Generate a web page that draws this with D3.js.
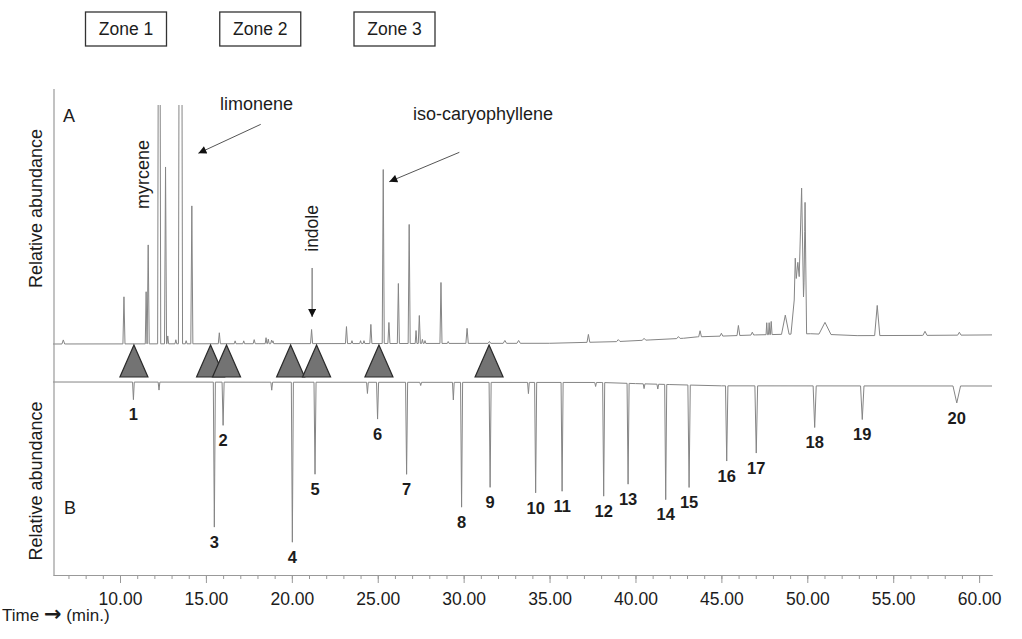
<!DOCTYPE html>
<html>
<head>
<meta charset="utf-8">
<script src="https://cdn.jsdelivr.net/npm/d3@7/dist/d3.min.js"></script>
<style>
  body { margin: 0; background: #fff; }
  text { font-family: "Liberation Sans", Arial, Helvetica, sans-serif; fill: #1c1c1c; }
</style>
</head>
<body>
<div id="chart"></div>
<script>
// zone boxes along the top
const zones = ["Zone 1", "Zone 2", "Zone 3"];

// trace A: retention time (min), relative abundance (% of full scale, >100 = off scale), half width (min)
const peakTimesA   = [6.7, 10.23, 11.52, 11.64, 12.28, 12.65, 12.78, 13.25, 13.52, 13.85, 14.18, 15.78, 16.7, 17.2, 17.81,
                      18.5, 18.63, 18.82, 18.9, 21.15, 23.18, 23.5, 24.0, 24.2, 24.6, 25.32, 25.65, 26.2, 26.83, 27.23,
                      27.42, 27.6, 27.75, 28.68, 29.1, 30.2, 31.5, 32.4, 33.2, 37.26, 39.0, 40.5, 42.5, 43.76, 45.0,
                      45.99, 46.8, 47.64, 47.78, 47.9, 48.72, 49.45, 49.3, 49.67, 49.87, 51.03, 54.07, 56.85, 58.85];
const peakHeightsA = [1.7, 19.7, 21.8, 41.4, 300, 74, 3.3, 1.7, 400, 1.3, 57.7, 4.6, 1.2, 1.2, 1.7,
                      2.5, 1.9, 1.5, 1.2, 5.9, 7.1, 1.2, 1.2, 1.2, 8.0, 72.8, 8.8, 25.1, 49.8, 5.4,
                      11.7, 1.7, 1.2, 25.5, 0.8, 6.3, 0.8, 1.2, 1.2, 3.3, 0.8, 0.8, 0.8, 2.5, 1.2,
                      4.2, 1.2, 5.0, 5.0, 5.5, 8, 30, 13, 47.5, 55, 5, 12.6, 1.7, 1.2];
const peakWidthsA  = [0.08, 0.06, 0.05, 0.06, 0.09, 0.06, 0.05, 0.05, 0.12, 0.05, 0.06, 0.06, 0.05, 0.05, 0.06,
                      0.05, 0.05, 0.05, 0.05, 0.06, 0.06, 0.05, 0.05, 0.05, 0.06, 0.06, 0.06, 0.06, 0.06, 0.05,
                      0.06, 0.05, 0.05, 0.06, 0.05, 0.07, 0.08, 0.1, 0.1, 0.08, 0.1, 0.1, 0.1, 0.08, 0.08,
                      0.08, 0.08, 0.04, 0.04, 0.05, 0.22, 0.4, 0.06, 0.14, 0.09, 0.35, 0.15, 0.12, 0.1];
// trace A baseline drift
const baseTimesA  = [6.1, 35, 38.9, 40.85, 42.8, 43.6, 45, 47, 50.2, 52.9, 56.7, 60.75];
const baseLevelsA = [0, 0.3, 1.0, 1.7, 2.4, 3.0, 3.3, 3.8, 4.3, 3.5, 3.6, 3.8];

// trace B (reference, drawn downward): retention time, depth (% of largest), half width, peak number
const peakTimesB  = [10.78, 12.27, 15.49, 16.0, 18.83, 20.03, 21.35, 24.4, 24.99, 26.68, 27.5, 29.4, 29.88, 31.54, 33.77,
                     34.19, 35.73, 37.68, 38.15, 39.57, 40.5, 41.3, 41.76, 43.12, 45.31, 47.03, 50.43, 53.2, 58.7];
const peakDepthsB = [11, 5, 90.6, 27, 5, 100, 57.5, 7, 23, 57.5, 2, 11, 78, 65.6, 7,
                     69, 68, 2.5, 71, 63, 3, 3, 72, 64, 47, 42, 26, 21, 10.6];
const peakWidthsB = [0.05, 0.05, 0.06, 0.06, 0.05, 0.06, 0.06, 0.05, 0.06, 0.06, 0.05, 0.05, 0.06, 0.06, 0.05,
                     0.06, 0.06, 0.05, 0.06, 0.06, 0.05, 0.05, 0.06, 0.07, 0.07, 0.08, 0.09, 0.1, 0.22];
const peakNumbersB = ["1", "", "3", "2", "", "4", "5", "", "6", "7", "", "", "8", "9", "",
                      "10", "11", "", "12", "13", "", "", "14", "15", "16", "17", "18", "19", "20"];
const baseTimesB  = [6.1, 38, 40, 42, 45, 60.75];
const baseLevelsB = [0, 0.3, 1.0, 1.6, 2.4, 2.5];

// triangle markers between the two traces (min)
const markerTimes = [10.81, 15.27, 16.2, 19.93, 21.44, 25.07, 31.48];

// axis ticks
const minorTicks = d3.range(7, 61, 1);
const majorTicks = [10, 15, 20, 25, 30, 35, 40, 45, 50, 55, 60];

const W = 1022, H = 639;
const svg = d3.select("#chart").append("svg").attr("width", W).attr("height", H);

const x = d3.scaleLinear().domain([6.1, 60.75]).range([53, 992]);
const yA = d3.scaleLinear().domain([0, 100]).range([344, 105]);
const yB = d3.scaleLinear().domain([0, 100]).range([382, 542]);

// piecewise-linear sum of triangular peaks over a drifting baseline
function buildTrace(times, heights, widths, baseT, baseV) {
    const base = d3.scaleLinear().domain(baseT).range(baseV).clamp(true);
    const verts = new Set([...x.domain(), ...baseT]);
    times.forEach((t, i) => { verts.add(t - widths[i]); verts.add(t); verts.add(t + widths[i]); });
    const ts = Array.from(verts).filter(t => t >= x.domain()[0] && t <= x.domain()[1]).sort(d3.ascending);
    return ts.map(t => [t, base(t) + d3.sum(times, (p, i) => Math.max(0, heights[i] * (1 - Math.abs(t - p) / widths[i])))]);
}

const traceA = buildTrace(peakTimesA, peakHeightsA, peakWidthsA, baseTimesA, baseLevelsA);
const traceB = buildTrace(peakTimesB, peakDepthsB, peakWidthsB, baseTimesB, baseLevelsB);
const baseB = d3.scaleLinear().domain(baseTimesB).range(baseLevelsB).clamp(true);

// clip trace A at the top of the frame
svg.append("clipPath").attr("id", "clipA")
    .append("rect").attr("x", 0).attr("y", yA(100)).attr("width", W).attr("height", H);

const traceColor = "#858585";
svg.append("path")
    .datum(traceA)
    .attr("clip-path", "url(#clipA)")
    .attr("fill", "none")
    .attr("stroke", traceColor)
    .attr("stroke-width", 1)
    .attr("d", d3.line().x(d => x(d[0])).y(d => yA(d[1])));

svg.append("path")
    .datum(traceB)
    .attr("fill", "none")
    .attr("stroke", traceColor)
    .attr("stroke-width", 1)
    .attr("d", d3.line().x(d => x(d[0])).y(d => yB(d[1])));

// frame: left edge
svg.append("line")
    .attr("x1", 54).attr("x2", 54)
    .attr("y1", 89).attr("y2", 575)
    .attr("stroke", "#999").attr("stroke-width", 1.2);

// bottom axis: minor and major ticks
const axisG = svg.append("g").attr("transform", "translate(0,575)");
axisG.append("g")
    .call(d3.axisBottom(x).tickValues(minorTicks).tickSize(4).tickSizeOuter(0).tickFormat(""));
const major = axisG.append("g")
    .call(d3.axisBottom(x).tickValues(majorTicks).tickSize(8).tickSizeOuter(0).tickPadding(9.5).tickFormat(d3.format(".2f")));
axisG.selectAll("path.domain").attr("stroke", "#999").attr("stroke-width", 1.2);
axisG.selectAll(".tick line").attr("stroke", "#999");
major.selectAll("text")
    .style("font-family", "'Liberation Sans', Arial, sans-serif")
    .style("font-size", "17.5px")
    .attr("fill", "#222");

// triangle markers
const triH = 32, triW = 28;
svg.selectAll("path.marker")
    .data(markerTimes)
    .enter()
    .append("path")
    .attr("class", "marker")
    .attr("d", t => {
        const cx = x(t), top = yA(0) + 1, bot = top + triH;
        return `M${cx},${top}L${cx + triW / 2},${bot}L${cx - triW / 2},${bot}Z`;
    })
    .attr("fill", "#737373")
    .attr("stroke", "#2a2a2a")
    .attr("stroke-width", 1.2);

// peak numbers under trace B
svg.selectAll("text.pnum")
    .data(peakTimesB.map((t, i) => ({ t, depth: peakDepthsB[i] + baseB(t), label: peakNumbersB[i] })).filter(d => d.label))
    .enter()
    .append("text")
    .attr("class", "pnum")
    .attr("x", d => x(d.t))
    .attr("y", d => yB(d.depth) + 15)
    .attr("dy", "0.35em")
    .attr("text-anchor", "middle")
    .style("font-size", "16.5px")
    .style("font-weight", "bold")
    .text(d => d.label);

// zone boxes
const zoneX = d3.scalePoint().domain(zones).range([126, 394.5]);
const zoneG = svg.selectAll("g.zone")
    .data(zones)
    .enter()
    .append("g")
    .attr("class", "zone")
    .attr("transform", d => `translate(${zoneX(d)},29)`);
zoneG.append("rect")
    .attr("x", -40.5).attr("y", -17).attr("width", 81).attr("height", 34)
    .attr("fill", "#fff").attr("stroke", "#333").attr("stroke-width", 1.3);
zoneG.append("text")
    .attr("text-anchor", "middle").attr("dy", "0.36em")
    .style("font-size", "17.5px")
    .text(d => d);

// panel letters and axis titles
svg.append("text").attr("x", 63).attr("y", 121.5).style("font-size", "18px").text("A");
svg.append("text").attr("x", 64).attr("y", 513.5).style("font-size", "18px").text("B");

[208.5, 481].forEach(cy => {
    svg.append("text")
        .attr("transform", `translate(42,${cy}) rotate(-90)`)
        .attr("text-anchor", "middle")
        .style("font-size", "18px")
        .text("Relative abundance");
});

const timeLabel = svg.append("text").attr("x", 2).attr("y", 621).style("font-size", "17px");
timeLabel.append("tspan").text("Time ");
timeLabel.append("tspan")
    .style("font-family", "'DejaVu Sans', sans-serif")
    .style("font-weight", "bold")
    .style("font-size", "21px")
    .text("\u2192");
timeLabel.append("tspan").text(" (min.)");

// compound annotations
const defs = svg.append("defs");
defs.append("marker")
    .attr("id", "arrow")
    .attr("viewBox", "0 0 10 10")
    .attr("refX", 10).attr("refY", 5)
    .attr("markerWidth", 10).attr("markerHeight", 8)
    .attr("markerUnits", "userSpaceOnUse")
    .attr("orient", "auto")
    .append("path").attr("d", "M0,0L10,5L0,10Z").attr("fill", "#111");

const arrows = [
    { from: [18.19, 91.9], to: [14.56, 79.8] },   // limonene
    { from: [29.75, 80.2], to: [25.67, 67.9] },   // iso-caryophyllene
    { from: [21.18, 31.8], to: [21.18, 11.3] }    // indole
];
svg.selectAll("line.arrow")
    .data(arrows)
    .enter()
    .append("line")
    .attr("class", "arrow")
    .attr("x1", d => x(d.from[0])).attr("y1", d => yA(d.from[1]))
    .attr("x2", d => x(d.to[0])).attr("y2", d => yA(d.to[1]))
    .attr("stroke", "#555").attr("stroke-width", 1)
    .attr("marker-end", "url(#arrow)");

svg.append("text").attr("x", x(15.82)).attr("y", yA(97.9)).style("font-size", "18px").text("limonene");
svg.append("text").attr("x", x(27.05)).attr("y", yA(93.9)).style("font-size", "18px").text("iso-caryophyllene");
svg.append("text")
    .attr("transform", `translate(${x(11.66)},${yA(56.5)}) rotate(-90)`)
    .style("font-size", "18px").text("myrcene");
svg.append("text")
    .attr("transform", `translate(${x(21.55)},${yA(38.6)}) rotate(-90)`)
    .style("font-size", "17.5px").text("indole");
</script>
</body>
</html>
